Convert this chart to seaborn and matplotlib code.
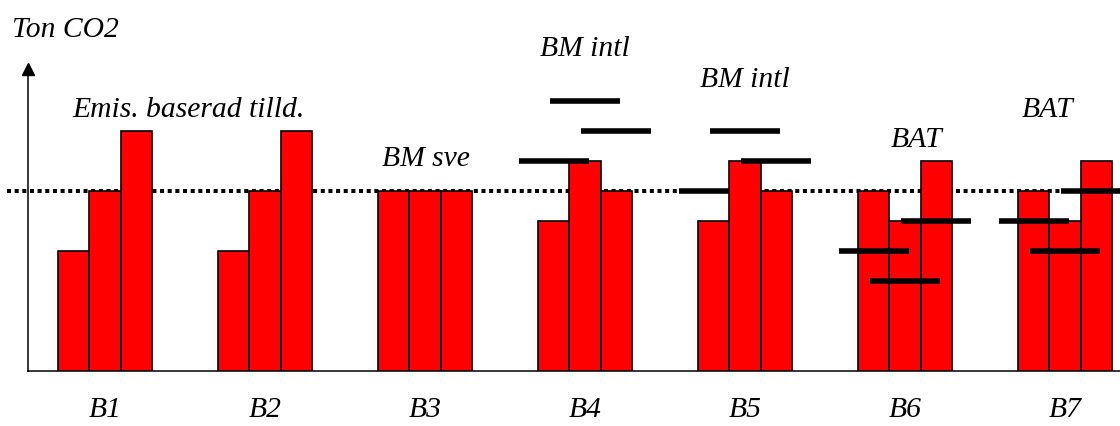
import numpy as np
import pandas as pd
import matplotlib
matplotlib.use('Agg')
import matplotlib.pyplot as plt
import seaborn as sns

# data (units = arbitrary Ton CO2 steps)
groups = ['B1', 'B2', 'B3', 'B4', 'B5', 'B6', 'B7']
bar_a = [4, 4, 6, 5, 5, 6, 6]
bar_b = [6, 6, 6, 7, 7, 5, 5]
bar_c = [8, 8, 6, 6, 6, 7, 7]
# allocation marks (black bars) per sub-bar, nan = none
alloc_a = [np.nan, np.nan, np.nan, 7, 6, 4, 5]
alloc_b = [np.nan, np.nan, np.nan, 9, 8, 3, 4]
alloc_c = [np.nan, np.nan, np.nan, 8, 7, 5, 6]
ref_level = 6

subs = ['a', 'b', 'c']
df = pd.DataFrame({
    'group': groups * 3,
    'sub': ['a'] * 7 + ['b'] * 7 + ['c'] * 7,
    'value': bar_a + bar_b + bar_c,
})

sns.set_theme(style='white')
plt.rcParams['font.family'] = ['Liberation Serif', 'DejaVu Serif']
plt.rcParams['font.style'] = 'italic'
plt.rcParams['text.color'] = 'black'
plt.rcParams['xtick.color'] = 'black'

fig = plt.figure(figsize=(11.2, 4.27), dpi=100)
ax = fig.add_axes([28 / 1120, 55 / 427, 1092 / 1120, 302 / 427])

sns.barplot(data=df, x='group', y='value', hue='sub', hue_order=subs,
            palette=['#ff0000'] * 3, saturation=1, width=0.5875, gap=0,
            edgecolor='black', linewidth=1.2, legend=False, ax=ax, zorder=3)

x0, x1 = -0.481, 6.344
ax.set_xlim(x0, x1)
ax.set_ylim(0, 302 / 30)

# dotted reference level, behind the bars, starting left of the axis
ax.hlines(ref_level, -0.615, x1, colors='black', linewidth=2.9,
          linestyles=(0, (1, 0.9)), zorder=2, clip_on=False)

# allocation marks centred on each bar
for cont, alloc in zip(ax.containers, [alloc_a, alloc_b, alloc_c]):
    for gi, (patch, val) in enumerate(zip(cont.patches, alloc)):
        if np.isnan(val):
            continue
        cx = patch.get_x() + patch.get_width() / 2
        # in B5 the first mark sits behind the neighbouring bar
        z = 2.5 if (groups[gi] == 'B5' and cont is ax.containers[0]) else 4
        ax.hlines(val, cx - 0.219, cx + 0.219, colors='black',
                  linewidth=4, zorder=z, clip_on=False)

# annotations
fs = 21.3
kw = dict(fontsize=fs, ha='left', va='baseline', color='black')
ax.text(-0.581, 11.17, 'Ton CO2', **kw)
ax.text(-0.206, 8.5, 'Emis. baserad tilld.', **kw)
ax.text(1.731, 6.87, 'BM sve', **kw)
ax.text(2.719, 10.53, 'BM intl', **kw)
ax.text(3.719, 9.5, 'BM intl', **kw)
ax.text(4.913, 7.5, 'BAT', **kw)
ax.text(5.731, 8.5, 'BAT', **kw)

# axes styling
for side in ['top', 'right']:
    ax.spines[side].set_visible(False)
for side in ['left', 'bottom']:
    ax.spines[side].set_color('black')
    ax.spines[side].set_linewidth(1.1)
ax.set_yticks([])
ax.set_xlabel('')
ax.set_ylabel('')
ax.tick_params(axis='x', length=0, pad=18, labelsize=fs, labelcolor='black')
ax.grid(False)
ax.plot(0, 1, marker='^', markersize=9, color='black',
        transform=ax.transAxes, clip_on=False, zorder=5)

fig.savefig('out.png', dpi=100)
